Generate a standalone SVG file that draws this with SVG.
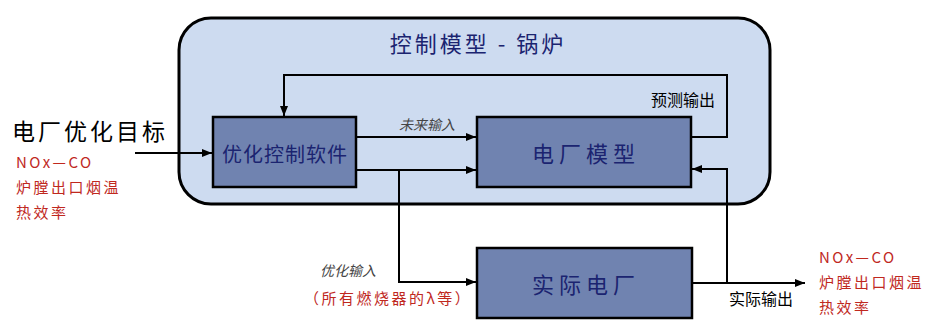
<svg xmlns="http://www.w3.org/2000/svg" width="933" height="323" viewBox="0 0 933 323">
<defs>
<marker id="arr" viewBox="0 0 10 10" refX="10" refY="5" markerWidth="10" markerHeight="10" markerUnits="userSpaceOnUse" orient="auto">
<path d="M0,1 L10,5 L0,9 Z" fill="#000"/>
</marker>
<style>
.box{fill:#7083b0;stroke:#000;stroke-width:2.5}
.nt{font-family:"Noto Sans CJK SC","Noto Sans",sans-serif;fill:#1b2470;text-anchor:middle;dominant-baseline:central}
.ln{fill:none;stroke:#000;stroke-width:2}
.red{font-family:"Noto Sans CJK SC","Noto Sans",sans-serif;fill:#c0281e;font-size:15px;letter-spacing:2.5px}
.lbl{font-family:"Noto Sans CJK SC","Noto Sans",sans-serif;fill:#000;font-size:16px}
.it{font-family:"Noto Sans CJK SC","Noto Sans",sans-serif;fill:#444;font-size:14px;font-style:italic}
</style>
</defs>
<rect width="933" height="323" fill="#fff"/>
<g id="boiler">
<rect x="179" y="18" width="591" height="186" rx="32" ry="32" fill="#cddbf0" stroke="#000" stroke-width="3"/>
<text class="nt" x="478" y="42" font-size="22" letter-spacing="3">控制模型 - 锅炉</text>
</g>
<g id="optimizer">
<rect class="box" x="213" y="117" width="143" height="70"/>
<text class="nt" x="285" y="153" font-size="20" letter-spacing="1">优化控制软件</text>
</g>
<g id="plantModel">
<rect class="box" x="477" y="117" width="214" height="70"/>
<text class="nt" x="586" y="152" font-size="22" letter-spacing="5">电厂模型</text>
</g>
<g id="realPlant">
<rect class="box" x="477" y="248" width="215" height="70"/>
<text class="nt" x="586" y="283" font-size="22" letter-spacing="5">实际电厂</text>
</g>
<g id="connectors">
<line class="ln" x1="135" y1="153" x2="212" y2="153" marker-end="url(#arr)"/>
<polyline class="ln" points="691,137 727,137 727,75 284,75 284,116" marker-end="url(#arr)"/>
<line class="ln" x1="356" y1="137" x2="476" y2="137" marker-end="url(#arr)"/>
<line class="ln" x1="356" y1="170" x2="476" y2="170" marker-end="url(#arr)"/>
<polyline class="ln" points="399,170 399,282 476,282" marker-end="url(#arr)"/>
<line class="ln" x1="692" y1="283" x2="805" y2="283" marker-end="url(#arr)"/>
<polyline class="ln" points="727,283 727,169 692,169" marker-end="url(#arr)"/>
</g>
<g id="labels">
<text x="12" y="140" font-family="Noto Sans CJK SC,sans-serif" font-size="23" letter-spacing="3" fill="#000">电厂优化目标</text>
<text class="red" x="16" y="168">NOx—CO</text>
<text class="red" x="16" y="193">炉膛出口烟温</text>
<text class="red" x="16" y="218">热效率</text>
<text class="it" x="399" y="130">未来输入</text>
<text class="lbl" x="651" y="106">预测输出</text>
<text class="it" x="320" y="276">优化输入</text>
<text class="red" x="304" y="304">（所有燃烧器的λ等）</text>
<text class="lbl" x="729" y="305">实际输出</text>
<text class="red" x="819" y="263">NOx—CO</text>
<text class="red" x="819" y="288">炉膛出口烟温</text>
<text class="red" x="819" y="313">热效率</text>
</g>
</svg>
